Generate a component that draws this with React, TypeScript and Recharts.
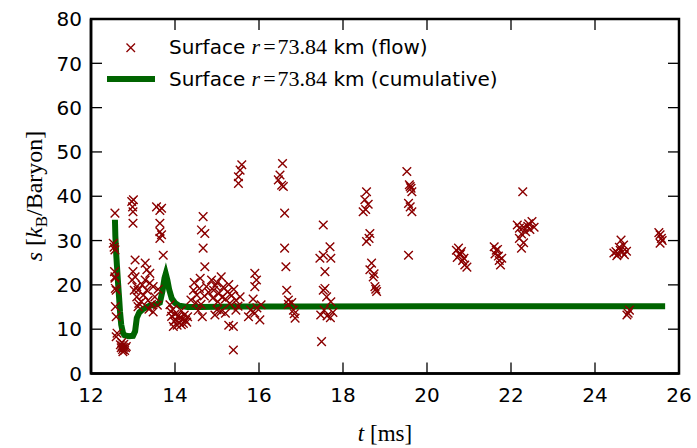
import React from 'react';
import { ComposedChart, Scatter, Line, XAxis, YAxis } from 'recharts';

// flow entropy samples, [t in ms, s in kB/baryon]
const flowPoints: [number, number][] = [
  [12.57, 36.2], [12.53, 29.4], [12.55, 28.5], [12.57, 27.9], [12.56, 23], [12.57, 21.8], [12.57, 21.5],
  [12.58, 19.2], [12.6, 18.8], [12.58, 15.1], [12.6, 12.8], [12.62, 9.1], [12.6, 8.3],
  [12.7, 6.5], [12.72, 5.8], [12.74, 6.2], [12.75, 5.4], [12.77, 5.9], [12.78, 6.6], [12.8, 5.2],
  [12.82, 5.8], [12.73, 7.0], [12.76, 4.9], [12.84, 6.1],
  [12.97, 38.8], [12.99, 37.6], [13.0, 36.5], [13.01, 39.2], [13.0, 33.9], [13.05, 25.6], [13.05, 21.8],
  [13.09, 19.6], [13.12, 18.8], [13.09, 17.3], [13.14, 15.8], [13.12, 15.1], [13.0, 23], [13.03, 18.8], [12.98, 21.1],
  [13.29, 24.9], [13.33, 23.4], [13.4, 22.6], [13.29, 21.1], [13.4, 20.4], [13.33, 18.8], [13.48, 19.6],
  [13.52, 17.3], [13.48, 13.9], [13.25, 17.7], [13.2, 16.2], [13.36, 16.5], [13.44, 15.6], [13.22, 20.0], [13.38, 14.5],
  [13.56, 37.6], [13.68, 37.3], [13.64, 36.8], [13.64, 33.9], [13.64, 32], [13.68, 31.3], [13.64, 30.5],
  [13.72, 26.7], [13.6, 19], [13.58, 15.4],
  [13.88, 15.5], [13.9, 14.0], [13.92, 12.9], [13.95, 14.5], [13.98, 11.8], [14.0, 13.4], [14.02, 12.1],
  [14.05, 10.9], [14.08, 13.0], [14.1, 11.5], [14.12, 12.6], [14.15, 11.0], [14.18, 12.3], [14.2, 11.3],
  [14.22, 13.2], [14.25, 12.0], [14.28, 11.6], [14.3, 12.8], [14.15, 14.2], [13.96, 10.6],
  [14.44, 18.8], [14.52, 17.7], [14.38, 16.6], [14.46, 20.5], [14.5, 16.0], [14.58, 19.2], [14.6, 21.5],
  [14.67, 35.4], [14.63, 32.4], [14.71, 31.6], [14.67, 28.3], [14.71, 24.1], [14.75, 19.6], [14.7, 17.5],
  [14.8, 18.3], [14.55, 14.2], [14.65, 12.8], [14.62, 15.6],
  [14.87, 21.1], [14.92, 18.8], [14.96, 19.8], [14.9, 17.0], [15.0, 20.5], [15.02, 16.2], [15.05, 18.1],
  [15.1, 21.8], [15.12, 17.2], [15.15, 19.5], [15.2, 16.8], [15.25, 18.4], [15.28, 20.1], [15.3, 15.8],
  [15.35, 17.6], [15.4, 19.0], [15.45, 16.5], [15.5, 15.2], [15.0, 14.4], [15.2, 13.6], [15.28, 10.9],
  [15.39, 10.6], [15.39, 5.3], [15.45, 14.3], [15.55, 17.3], [15.1, 14.0], [14.95, 13.2],
  [15.59, 47.1], [15.55, 45.9], [15.51, 44.4], [15.51, 42.9],
  [15.9, 22.6], [15.94, 21.1], [15.9, 19.6], [15.86, 16.8], [15.75, 12.8], [15.9, 13.6], [16.02, 12.1],
  [15.95, 14.8], [16.05, 15.5], [15.8, 14.3],
  [16.56, 47.4], [16.5, 44.8], [16.46, 43.7], [16.54, 42.5], [16.58, 42.2], [16.61, 36.2], [16.61, 28.3],
  [16.64, 24.1], [16.66, 18.8], [16.7, 16.6], [16.82, 14.3], [16.86, 12.5], [16.7, 15.6], [16.78, 16.0], [16.84, 13.5],
  [17.53, 33.5], [17.69, 28.6], [17.53, 26.7], [17.45, 26.0], [17.71, 26.0], [17.57, 23.0], [17.57, 19.2],
  [17.53, 18.8], [17.61, 17.3], [17.71, 16.2], [17.47, 13.2], [17.55, 14.3], [17.62, 13.0], [17.7, 12.6],
  [17.76, 13.8], [17.49, 7.2],
  [18.56, 41.0], [18.52, 39.2], [18.48, 36.5], [18.64, 31.6], [18.56, 29.8], [18.68, 24.9], [18.64, 23.4],
  [18.72, 21.8], [18.76, 19.6], [18.8, 18.5], [18.6, 38.2], [18.54, 37.0], [18.62, 30.5], [18.74, 22.5], [18.78, 19.0],
  [19.52, 45.6], [19.6, 42.2], [19.64, 41.0], [19.56, 38.4], [19.64, 36.5], [19.56, 26.7], [19.62, 41.8],
  [19.58, 42.6], [19.6, 37.6],
  [20.7, 27.8], [20.75, 28.3], [20.8, 27.0], [20.72, 26.2], [20.85, 25.5], [20.9, 24.5], [20.78, 26.8],
  [20.95, 24.0], [20.82, 27.5], [20.88, 26.0],
  [21.6, 28.6], [21.65, 27.8], [21.7, 26.5], [21.62, 27.0], [21.72, 25.5], [21.75, 24.5], [21.68, 28.0], [21.78, 26.0],
  [22.28, 41.0], [22.15, 33.5], [22.2, 32.8], [22.3, 33.0], [22.4, 33.2], [22.5, 34.3], [22.35, 32.0],
  [22.25, 31.5], [22.45, 32.5], [22.2, 30.5], [22.3, 29.5], [22.25, 28.3], [22.42, 33.8], [22.55, 33.0],
  [24.5, 27.5], [24.55, 27.0], [24.6, 27.8], [24.45, 27.2], [24.65, 27.4], [24.7, 26.8], [24.58, 28.5],
  [24.62, 30.1], [24.68, 29.0], [24.52, 26.6], [24.75, 27.6], [24.79, 13.6], [24.82, 14.3], [24.76, 13.2],
  [25.55, 31.3], [25.55, 29.4], [25.58, 30.5], [25.52, 31.8], [25.6, 30.0],
];

// cumulative entropy curve
const cumTime = [12.57, 12.58, 12.6, 12.62, 12.64, 12.67, 12.69, 12.72, 12.76, 12.8, 12.9, 13.0, 13.05, 13.09,
  13.15, 13.25, 13.4, 13.55, 13.64, 13.7, 13.75, 13.78, 13.82, 13.86, 13.92, 14.0, 14.1, 14.3, 14.6, 15.5,
  17, 20, 23, 25.67];
const cumEntropy = [34.7, 31, 27, 24, 21, 17, 14, 11, 9.2, 8.6, 8.4, 8.5, 9.5, 12.5,
  13.8, 14.6, 15.3, 15.6, 16.0, 18.5, 21.5, 22.5, 21, 19, 17, 15.9, 15.3, 15.0, 15.0, 15.1,
  15.1, 15.2, 15.2, 15.2];

const xTicks = [12, 14, 16, 18, 20, 22, 24, 26];
const yTicks = [0, 10, 20, 30, 40, 50, 60, 70, 80];

const flowData = flowPoints.map(([t, s]) => ({ t, s }));
const cumData = cumTime.map((t, i) => ({ t, s: cumEntropy[i] }));

const W = 697;
const H = 448;
const M = { top: 19, right: 18, left: 31, bottom: 44.5 };
const PLOT_L = 91;
const PLOT_T = M.top;
const PLOT_W = W - PLOT_L - M.right;
const PLOT_H = 373.5 - M.top;
const TICK = 11;
const SANS = '"DejaVu Sans", sans-serif';
const SERIF = '"Liberation Serif", "DejaVu Serif", serif';
const RED = '#8b0000';
const GREEN = '#006400';

const Cross = (props: any) => {
  const { cx, cy } = props;
  const r = 4.3;
  return (
    <path
      d={`M${cx - r},${cy - r}L${cx + r},${cy + r}M${cx - r},${cy + r}L${cx + r},${cy - r}`}
      stroke={RED}
      strokeWidth={1.4}
      fill="none"
    />
  );
};

const XTick = (props: any) => {
  const { x, y, payload } = props;
  return (
    <g>
      <line x1={x} x2={x} y1={y} y2={y - TICK} stroke="#000" strokeWidth={1.3} />
      <line x1={x} x2={x} y1={y - PLOT_H} y2={y - PLOT_H + TICK} stroke="#000" strokeWidth={1.3} />
      <text x={x} y={y + 28} textAnchor="middle" fontFamily={SANS} fontSize={20} fill="#000">
        {payload.value}
      </text>
    </g>
  );
};

const YTick = (props: any) => {
  const { x, y, payload } = props;
  return (
    <g>
      <line x1={x} x2={x + TICK} y1={y} y2={y} stroke="#000" strokeWidth={1.3} />
      <line x1={x + PLOT_W} x2={x + PLOT_W - TICK} y1={y} y2={y} stroke="#000" strokeWidth={1.3} />
      <text x={x - 9} y={y} dy="0.36em" textAnchor="end" fontFamily={SANS} fontSize={20} fill="#000">
        {payload.value}
      </text>
    </g>
  );
};

const LegendLabel = ({ y, tail }: { y: number; tail: string }) => (
  <text x={169} y={y} dy="0.36em" fontFamily={SANS} fontSize={20} fill="#000">
    Surface{' '}
    <tspan fontFamily={SERIF} fontStyle="italic" fontSize={22}>r</tspan>
    <tspan fontFamily={SERIF} fontSize={22} dx={3}>=</tspan>
    <tspan fontFamily={SERIF} fontSize={22} dx={2}>73.84</tspan>
    {' '}km ({tail})
  </text>
);

export default function App() {
  return (
    <div style={{ position: 'absolute', left: 0, top: 0, width: W, height: H, background: '#fff' }}>
      <ComposedChart width={W} height={H} margin={M}>
        <XAxis
          type="number"
          dataKey="t"
          domain={[12, 26]}
          ticks={xTicks}
          height={30}
          tickSize={0}
          tickMargin={0}
          tickLine={false}
          axisLine={{ stroke: '#000', strokeWidth: 2.5 }}
          tick={<XTick />}
          allowDataOverflow
        />
        <YAxis
          type="number"
          dataKey="s"
          domain={[0, 80]}
          ticks={yTicks}
          width={60}
          tickSize={0}
          tickMargin={0}
          tickLine={false}
          axisLine={{ stroke: '#000', strokeWidth: 2.5 }}
          tick={<YTick />}
          allowDataOverflow
        />
        <Scatter data={flowData} shape={<Cross />} isAnimationActive={false} />
        <Line
          data={cumData}
          dataKey="s"
          type="linear"
          stroke={GREEN}
          strokeWidth={6}
          dot={false}
          activeDot={false}
          isAnimationActive={false}
        />
      </ComposedChart>
      <svg width={W} height={H} style={{ position: 'absolute', left: 0, top: 0, pointerEvents: 'none' }}>
        <rect x={PLOT_L} y={PLOT_T} width={PLOT_W} height={PLOT_H} fill="none" stroke="#000" strokeWidth={2.5} />
        <path d="M126.5,43.5L135,52M126.5,52L135,43.5" stroke={RED} strokeWidth={1.4} />
        <LegendLabel y={46.5} tail="flow" />
        <line x1={107} x2={155} y1={79} y2={79} stroke={GREEN} strokeWidth={6} />
        <LegendLabel y={78.5} tail="cumulative" />
        <text x={385} y={441} textAnchor="middle" fontFamily={SERIF} fontSize={23} fill="#000">
          <tspan fontStyle="italic">t</tspan> [ms]
        </text>
        <text transform="translate(42,196) rotate(-90)" textAnchor="middle" fontFamily={SERIF} fontSize={24} fill="#000">
          <tspan fontStyle="italic">s</tspan> [<tspan fontStyle="italic">k</tspan>
          <tspan fontSize={17} dy={5}>B</tspan>
          <tspan dy={-5}>/Baryon]</tspan>
        </text>
      </svg>
    </div>
  );
}
